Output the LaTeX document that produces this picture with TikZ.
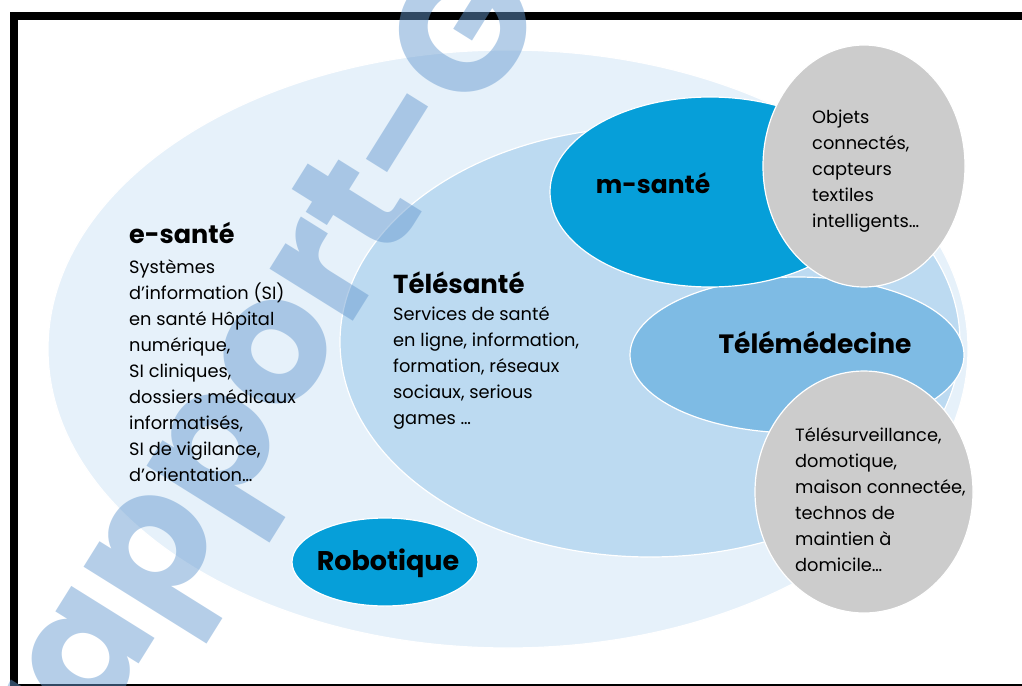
\documentclass[tikz,border=0pt]{standalone}
\usepackage{fontspec}
\setmainfont{Poppins}
\usetikzlibrary{shapes.geometric}

\definecolor{esanteblue}{RGB}{230,241,250}
\definecolor{telesanteblue}{RGB}{188,218,241}
\definecolor{msanteblue}{RGB}{6,159,217}
\definecolor{telemedblue}{RGB}{126,187,228}
\definecolor{objetgray}{RGB}{204,204,204}
\definecolor{markblue}{RGB}{101,153,207}

\tikzset{
  zone/.style={ellipse, draw=white, line width=1.2pt, inner sep=0pt},
  ttl/.style={font=\fontsize{#1}{26}\selectfont\bfseries, inner sep=0pt, anchor=base west},
  ttl/.default=25,
  % multi-line texts: placed by the baseline of their last line
  txt/.style={font=\fontsize{17.8}{26}\selectfont, align=left, anchor=base west, inner sep=0pt},
}

\begin{document}
\begin{tikzpicture}[x=1pt,y=-1pt]
\useasboundingbox (0,0) rectangle (1022,685);
\draw[line width=8pt] (13.5,16.5) rectangle (1040,688);

% nested zones
\node[zone,fill=esanteblue,minimum width=920pt,minimum height=598pt] (esante) at (508,349) {};
\node[zone,fill=telesanteblue,minimum width=620pt,minimum height=430pt] (telesante) at (650,342) {};
\node[zone,fill=telemedblue,minimum width=334pt,minimum height=156pt] (telemed) at (797,355) {};
\node[zone,fill=msanteblue,minimum width=320pt,minimum height=190pt] (msante) at (710,192) {};
\node[zone,fill=objetgray,minimum width=202pt,minimum height=242pt] (objets) at (864,166) {};
\node[zone,fill=objetgray,minimum width=218pt,minimum height=242pt] (domicile) at (864,492) {};
\node[zone,fill=msanteblue,minimum width=186pt,minimum height=88pt] (robot) at (385,562) {};

% watermark
\node[text=markblue,opacity=.48,rotate=58,anchor=base,inner sep=0pt,
  font=\fontsize{176}{176}\selectfont\bfseries] (mark) at (304,400) {rapport-G};

% labels
\node[ttl=25.5] (esantet) at (129,243) {e-santé};
\node[txt] (esanteb) at (129,481) {Systèmes\\d’information (SI)\\en santé Hôpital\\numérique,\\SI cliniques,\\dossiers médicaux\\informatisés,\\SI de vigilance,\\d’orientation…};
\node[ttl=26] (telesantet) at (393,293) {Télésanté};
\node[txt] (telesanteb) at (393,424) {Services de santé\\en ligne, information,\\formation, réseaux\\sociaux, serious\\games …};
\node[ttl,anchor=base] (msantet) at (653,193) {m-santé};
\node[ttl=26.5,anchor=base] (telemedt) at (815,353) {Télémédecine};
\node[ttl=27,anchor=base] (robott) at (388,570) {Robotique};
\node[txt] (objetst) at (812,227) {Objets\\connectés,\\capteurs\\textiles\\intelligents…};
\node[txt] (domicilet) at (795,571) {Télésurveillance,\\domotique,\\maison connectée,\\technos de\\maintien à\\domicile…};
\end{tikzpicture}
\end{document}
